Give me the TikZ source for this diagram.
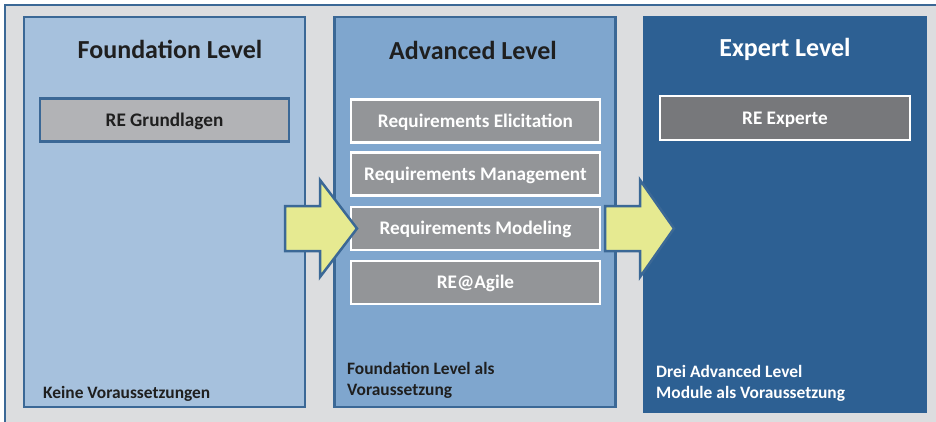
\documentclass[tikz,border=0pt]{standalone}
\usepackage{fontspec}
\setmainfont{Carlito}
\definecolor{bggray}{HTML}{DCDDDF}
\definecolor{frameblue}{HTML}{3B6896}
\definecolor{foundfill}{HTML}{A6C1DD}
\definecolor{advfill}{HTML}{7FA6CE}
\definecolor{expfill}{HTML}{2D6093}
\definecolor{grundfill}{HTML}{B2B3B6}
\definecolor{subfill}{HTML}{939598}
\definecolor{expsub}{HTML}{77787B}
\definecolor{arrowfill}{HTML}{E6EA91}
\definecolor{darktext}{HTML}{1F1F1F}
\begin{document}
\begin{tikzpicture}[x=1pt,y=-1pt,
  levelbox/.style={draw=frameblue,line width=2.5pt,minimum width=281pt,minimum height=390pt,inner sep=0pt},
  title/.style={font=\bfseries\fontsize{26}{30}\selectfont,anchor=base,inner sep=0pt},
  subbox/.style={line width=2.5pt,minimum width=249pt,minimum height=43pt,inner sep=0pt,
    font=\bfseries\fontsize{19.2}{22}\selectfont,text height=12.5pt,text depth=0pt},
  note/.style={font=\bfseries\fontsize{17.4}{21}\selectfont,anchor=base west,align=left,inner sep=0pt},
  blockarrow/.style={fill=arrowfill,draw=frameblue,line width=2.5pt,line join=miter}
]
\useasboundingbox (0,0) rectangle (936,421);
\fill[white] (0,0) rectangle (936,421);
\draw[fill=bggray,draw=frameblue,line width=2.5pt] (5,5) rectangle (960,440);

% level boxes
\node[levelbox,fill=foundfill] (found) at (164.5,212) {};
\node[levelbox,fill=advfill] (adv) at (475,212) {};
\node[levelbox,fill=expfill,draw=expfill,minimum width=282pt,minimum height=394pt] (exp) at (785,214.5) {};

% titles
\node[title,text=darktext] (foundtitle) at (170,58) {Foundation Level};
\node[title,text=darktext] (advtitle) at (473,59) {Advanced Level};
\node[title,text=white] (exptitle) at (785,56) {Expert Level};

% modules
\node[subbox,draw=frameblue,fill=grundfill,text=darktext] (grund) at (164.5,120) {RE Grundlagen};
\node[subbox,draw=white,fill=subfill,text=white] (elic) at (475.5,121) {Requirements Elicitation};
\node[subbox,draw=white,fill=subfill,text=white] (mgmt) at (475.5,174) {Requirements Management};
\node[subbox,draw=white,fill=subfill,text=white] (model) at (475.5,228.5) {Requirements Modeling};
\node[subbox,draw=white,fill=subfill,text=white] (agile) at (475.5,282.5) {RE@Agile};
\node[subbox,draw=white,fill=expsub,text=white,minimum width=250pt,minimum height=44pt] (experte) at (785,118) {RE Experte};

% notes
\node[note,text=darktext] (foundnote) at (43,398) {Keine Voraussetzungen};
\node[note,text=darktext] (advnote) at (347,395) {Foundation Level als\\Voraussetzung};
\node[note,text=white] (expnote) at (656,398) {Drei Advanced Level\\Module als Voraussetzung};

% block arrows
\draw[blockarrow] (285,206) -- (320,206) -- (320,180) -- (357,228.5) -- (320,277) -- (320,251) -- (285,251) -- cycle;
\draw[blockarrow] (605,206) -- (640,206) -- (640,180) -- (674,228.5) -- (640,277) -- (640,251) -- (605,251) -- cycle;
\end{tikzpicture}
\end{document}
